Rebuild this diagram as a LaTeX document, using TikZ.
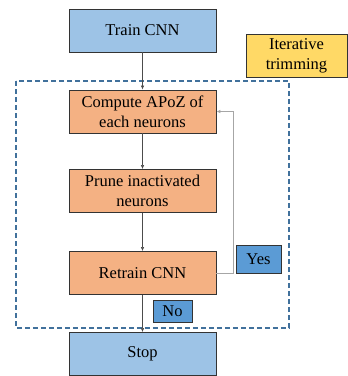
\documentclass[tikz,border=0pt]{standalone}
\usepackage{fontspec}
\setmainfont{Liberation Serif}
\usetikzlibrary{arrows.meta}

\definecolor{stepblue}{HTML}{9DC3E6}
\definecolor{steporange}{HTML}{F4B183}
\definecolor{noteyellow}{HTML}{FFD966}
\definecolor{tagblue}{HTML}{5B9BD5}
\definecolor{loopblue}{HTML}{41719C}

\begin{document}
\begin{tikzpicture}[x=1pt,y=1pt,
  stepbox/.style={draw=black!80, line width=0.8pt, minimum width=147pt, minimum height=43pt, align=center, font=\fontsize{16.5}{20}\selectfont, inner sep=0pt},
  tagbox/.style={draw=black!80, line width=0.8pt, fill=tagblue, inner sep=0pt, font=\fontsize{16.5}{20}\selectfont},
  flow/.style={black!70, line width=0.6pt, -{Latex[length=4pt, width=3.5pt]}}]
\useasboundingbox (0,0) rectangle (348,-376);
\draw[loopblue, line width=1.6pt, dash pattern=on 5pt off 3pt] (16,-81) rectangle (289,-328);
\node[stepbox, fill=stepblue] (train) at (142.5,-30.5) {Train CNN};
\node[stepbox, fill=steporange] (apoz) at (142.5,-111.5) {Compute APoZ of\\each neurons};
\node[stepbox, fill=steporange] (prune) at (142.5,-191) {Prune inactivated\\neurons};
\node[stepbox, fill=steporange] (retrain) at (142.5,-273) {Retrain CNN};
\node[stepbox, fill=stepblue] (stop) at (142.5,-354) {Stop};
\node[draw=black!80, line width=0.8pt, fill=noteyellow, minimum width=101pt, minimum height=43pt, align=center, inner sep=0pt, font=\fontsize{16.5}{20}\selectfont] (note) at (296.5,-55.5) {Iterative\\trimming};
\node[tagbox, minimum width=45pt, minimum height=28pt] (yes) at (258.5,-259) {Yes};
\node[tagbox, minimum width=39pt, minimum height=22pt] (no) at (172.5,-311) {No};
\coordinate (turn) at (233,-273);
\draw[flow] (train) -- (apoz);
\draw[flow] (apoz) -- (prune);
\draw[flow] (prune) -- (retrain);
\draw[flow] (retrain) -- (stop);
\draw[black!35, line width=0.8pt, -{Latex[length=4pt, width=3.5pt]}, black!35] (retrain.east) -- (turn) |- (apoz.east);
\end{tikzpicture}
\end{document}
